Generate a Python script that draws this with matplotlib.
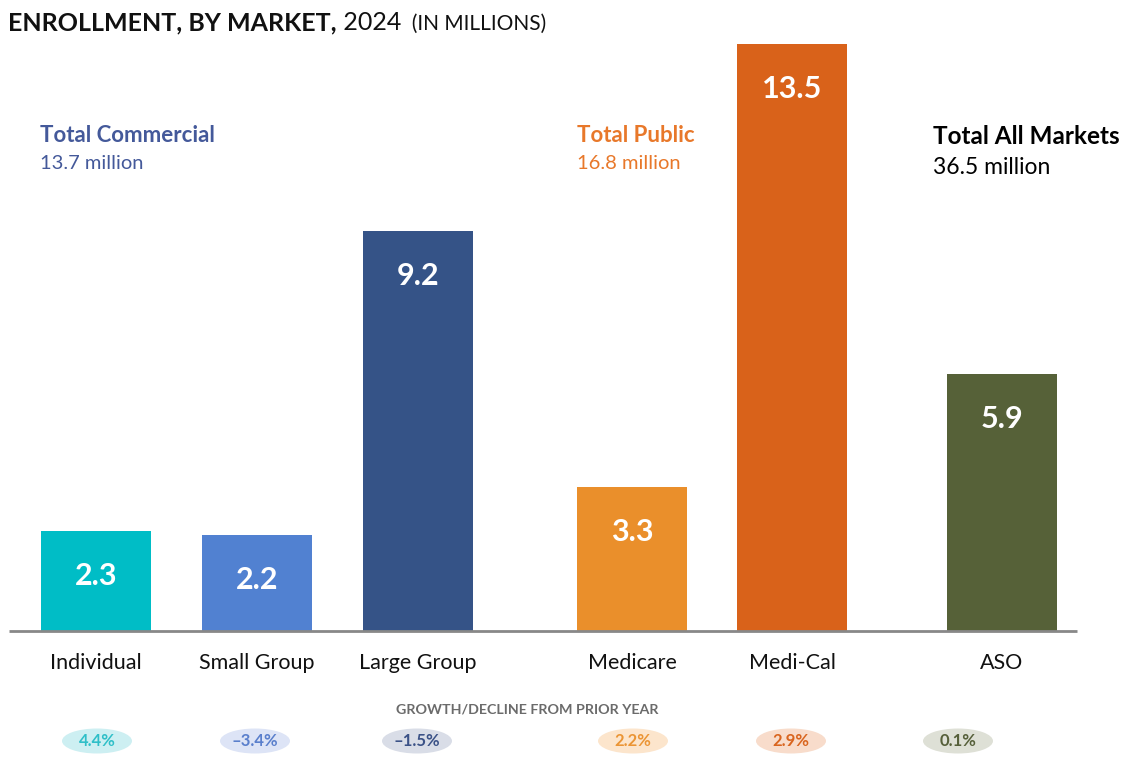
import matplotlib.pyplot as plt
from matplotlib.patches import Ellipse

# data
markets = ["Individual", "Small Group", "Large Group", "Medicare", "Medi-Cal", "ASO"]
enrollment = [2.3, 2.2, 9.2, 3.3, 13.5, 5.9]
growth = [4.4, -3.4, -1.5, 2.2, 2.9, 0.1]
groups = ["Total Commercial", "Total Public", "Total All Markets"]
group_totals = [13.7, 16.8, 36.5]

bar_colors = ["#00BDC6", "#5181D1", "#355387", "#EA8F2B", "#D9621A", "#566138"]
pill_colors = ["#CDEFF2", "#DDE4F6", "#D9DDE7", "#FCE5CC", "#F8DCCB", "#DEE0D6"]
pill_text = ["#2FBFC8", "#5A7FCC", "#3B5287", "#EB9535", "#D9651F", "#56603A"]

body = "Lato"

W, H = 1135, 757
fig = plt.figure(figsize=(W / 100, H / 100), dpi=100)
ax = fig.add_axes([0, 0, 1, 1])
ppu = 43.5  # pixels per million
base = 631
ax.set_xlim(0, W)
ax.set_ylim(-(H - base) / ppu, base / ppu)
ax.axis("off")

def P(x, y):
    return x / W, 1 - y / H

# layout (pixel centers)
xs = [96, 257, 418, 632, 792, 1002]
pill_x = [97, 255, 417, 633, 791, 958]

ax.bar(xs, enrollment, width=110, color=bar_colors)
ax.plot([9, 1077], [0, 0], color="#888888", lw=2, solid_capstyle="butt")

for x, v in zip(xs, enrollment):
    ax.text(x, v - 45 / ppu, f"{v:.1f}", ha="center", va="center",
            color="white", fontsize=22, family=body, weight="bold")

for x, m in zip(xs, markets):
    ax.text(x, -32 / ppu, m, ha="center", va="center", fontsize=15.5,
            family=body, color="#111111")

fig.text(*P(527, 709), "GROWTH/DECLINE FROM PRIOR YEAR", ha="center", va="center",
         fontsize=10.3, family=body, weight="bold", color="#6B6B6B")

for x, g, fc, tc in zip(pill_x, growth, pill_colors, pill_text):
    ax.add_patch(Ellipse((x, -(741 - base) / ppu), 70, 25 / ppu, color=fc, lw=0))
    s = f"{g:.1f}%".replace("-", "\u2013")
    ax.text(x, -(741 - base) / ppu, s, ha="center", va="center",
            fontsize=12, family=body, weight="bold", color=tc)

# group totals
hdr = [(40, 142, 169, "#44599A", 16, 14.5), (577, 142, 169, "#E8782A", 16, 14.5),
       (933, 144, 174, "#000000", 17.5, 16.5)]
for (x, y1, y2, c, fs1, fs2), g, t in zip(hdr, groups, group_totals):
    fig.text(*P(x, y1), g, ha="left", va="baseline", fontsize=fs1,
             family=body, weight="bold", color=c)
    fig.text(*P(x, y2), f"{t} million", ha="left", va="baseline",
             fontsize=fs2, family=body, color=c)

# title
t1 = fig.text(*P(8, 30), "ENROLLMENT, BY MARKET,", ha="left", va="baseline",
              fontsize=18, family=body, weight="bold", color="#111111")
t2 = ax.annotate(" 2024", xy=(1, 0), xycoords=t1, va="bottom", ha="left",
                 fontsize=18, family=body, color="#111111")
ax.annotate("  (IN MILLIONS)", xy=(1, 0), xycoords=t2, va="bottom", ha="left",
            fontsize=15, family=body, color="#111111")

fig.savefig("out.png", dpi=100)
